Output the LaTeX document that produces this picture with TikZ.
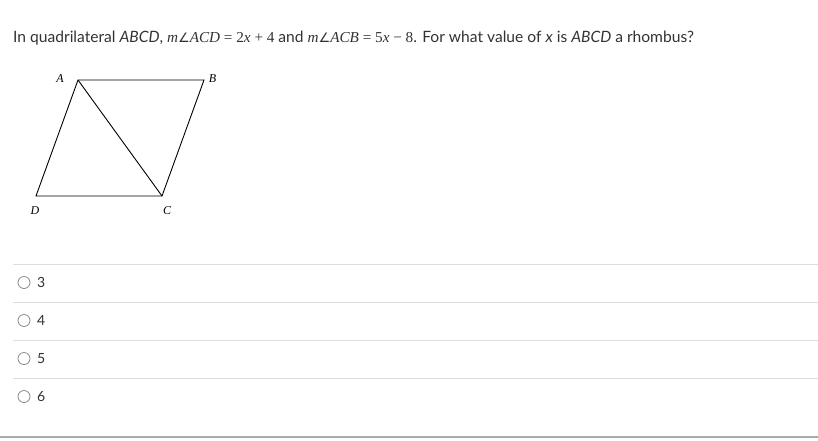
\documentclass[tikz,border=0pt]{standalone}
\usepackage{fontspec}
\setmainfont{Lato}
\newfontfamily\mathf{Liberation Serif}
\newfontfamily\symf{DejaVu Sans}
\definecolor{txt}{HTML}{333333}
\definecolor{sep}{HTML}{DDDDDD}
\definecolor{botline}{HTML}{AAAAAA}
\definecolor{radio}{HTML}{888888}
\begin{document}
\begin{tikzpicture}[x=1pt,y=-1pt,
  vlabel/.style={font=\mathf\itshape\fontsize{12}{12}\selectfont, inner sep=0pt, text=black},
  answer/.style={font=\fontsize{14}{14}\selectfont, text=txt, anchor=west, inner sep=0pt},
  radiobtn/.style={draw=radio, line width=0.8pt, circle, minimum size=12pt, inner sep=0pt},
  sepline/.style={draw=sep, line width=1pt},
  edge/.style={draw=black, line width=0.9pt}]
\useasboundingbox (0,0) rectangle (818,440);
\fill[white] (0,0) rectangle (818,440);
\node[anchor=base west, inner sep=0pt, text=txt, font=\fontsize{15.6}{18}\selectfont] (q) at (13,42)
 {In quadrilateral \textit{ABCD}, {\mathf\fontsize{15.2}{18}\selectfont\textit{m}{\symf\fontsize{13}{18}\selectfont∠}\textit{ACD} = 2\textit{x} + 4} and {\mathf\fontsize{15.2}{18}\selectfont\textit{m}{\symf\fontsize{13}{18}\selectfont∠}\textit{ACB} = 5\textit{x} − 8}. For what value of \textit{x} is \textit{ABCD} a rhombus?};
% figure
\coordinate (A) at (78,80);
\coordinate (B) at (204,80);
\coordinate (C) at (162,196);
\coordinate (D) at (36,196);
\draw[edge, line join=miter] (A) -- (B) -- (C) -- (D) -- cycle;
\draw[edge] (A) -- (C);
\node[vlabel] (lA) at (60,79) {A};
\node[vlabel] (lB) at (212.5,79) {B};
\node[vlabel] (lC) at (167,211) {C};
\node[vlabel] (lD) at (35,211) {D};
% separators
\foreach \y in {264.5,302.5,340.5,378.5} \draw[sepline] (13,\y) -- (818,\y);
\draw[draw=botline, line width=2pt] (0,436.5) -- (818,436.5);
% answers
\node[radiobtn] (r1) at (24,282.5) {};
\node[answer] (a1) at (37,282.5) {3};
\node[radiobtn] (r2) at (24,320.5) {};
\node[answer] (a2) at (37,320.5) {4};
\node[radiobtn] (r3) at (24,358.5) {};
\node[answer] (a3) at (37,358.5) {5};
\node[radiobtn] (r4) at (24,396.5) {};
\node[answer] (a4) at (37,396.5) {6};
\end{tikzpicture}
\end{document}
